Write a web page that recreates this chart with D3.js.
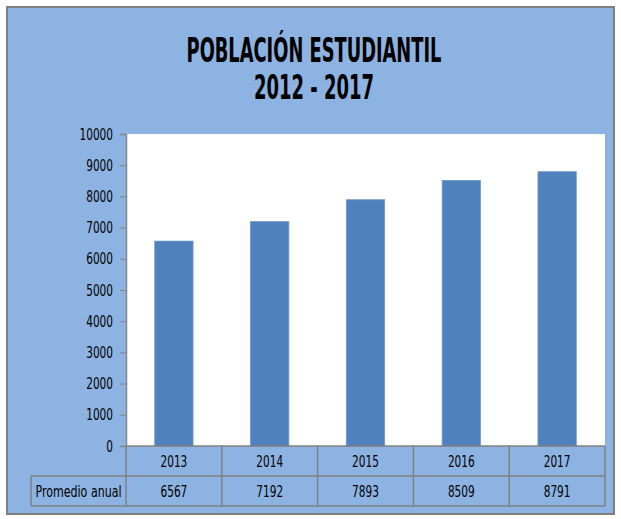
<!DOCTYPE html>
<html>
<head>
<meta charset="utf-8">
<script src="https://cdn.jsdelivr.net/npm/d3@7"></script>
<style>
  body { margin: 0; background: #fff; }
  svg text { font-family: "Liberation Sans Narrow", "DejaVu Sans Condensed", "Roboto", sans-serif; fill: #000; }
  .axis path, .axis line { stroke: #868686; }
</style>
</head>
<body>
<div id="chart"></div>
<script>
// chart data
const titleLines = ["POBLACIÓN ESTUDIANTIL", "2012 - 2017"];
const years = ["2013", "2014", "2015", "2016", "2017"];
const promedio = [6567, 7192, 7893, 8509, 8791];
const rowLabel = "Promedio anual";
const yTicks = [0, 1000, 2000, 3000, 4000, 5000, 6000, 7000, 8000, 9000, 10000];

const width = 621, height = 519;
const margin = {top: 134, right: 16, bottom: 73, left: 126};
const plotW = width - margin.left - margin.right;   // 479
const plotH = height - margin.top - margin.bottom;  // 312
const rowH = 30;
const labelLeft = 31;
const charW = 6.7; // narrow digits like the original

const svg = d3.select("#chart").append("svg")
  .attr("width", width)
  .attr("height", height);

// outer frame
svg.append("rect")
  .attr("x", 7).attr("y", 7)
  .attr("width", 607).attr("height", 507)
  .attr("fill", "#8DB3E2")
  .attr("stroke", "#7F7F7F")
  .attr("stroke-width", 2);

// title - squeezed horizontally to look like the condensed original
const titleW = [255, 120];
const titleY = [62, 99];
titleLines.forEach(function(t, i) {
  const tg = svg.append("g");
  const txt = tg.append("text")
    .attr("x", 0)
    .attr("y", 0)
    .attr("text-anchor", "middle")
    .attr("font-weight", "bold")
    .attr("font-size", 34)
    .text(t);
  const sx = titleW[i] / txt.node().getComputedTextLength();
  tg.attr("transform", "translate(314," + titleY[i] + ") scale(" + sx + ",1)");
});

const g = svg.append("g")
  .attr("transform", "translate(" + margin.left + "," + margin.top + ")");

const x = d3.scaleBand().domain(years).range([0, plotW]).padding(0);
const y = d3.scaleLinear().domain([0, 10000]).range([plotH, 0]);

// plot area
g.append("rect")
  .attr("width", plotW).attr("height", plotH)
  .attr("fill", "#fff");

// bars
const barW = x.bandwidth() * 0.4;
g.selectAll(".bar")
  .data(promedio)
  .enter().append("rect")
  .attr("class", "bar")
  .attr("x", (d, i) => x(years[i]) + (x.bandwidth() - barW) / 2)
  .attr("y", d => y(d))
  .attr("width", barW)
  .attr("height", d => plotH - y(d))
  .attr("fill", "#4F81BD")
  .attr("stroke", "#6F96C8")
  .attr("stroke-width", 0.8);

// y axis
const yAxis = d3.axisLeft(y)
  .tickValues(yTicks)
  .tickSize(6)
  .tickPadding(7)
  .tickFormat(d3.format("d"));

g.append("g")
  .attr("class", "y axis")
  .call(yAxis)
  .call(s => s.select(".domain").attr("stroke-width", 1.5))
  .selectAll("text")
  .attr("font-size", 16)
  .attr("font-family", null)
  .attr("textLength", d => String(d).length * charW)
  .attr("lengthAdjust", "spacingAndGlyphs");

// data table under the plot
const table = g.append("g")
  .attr("transform", "translate(0," + plotH + ")");

const gridColor = "#808080";

function cellText(sel) {
  sel.attr("text-anchor", "middle")
    .attr("font-size", 16)
    .attr("textLength", d => String(d).length * charW)
    .attr("lengthAdjust", "spacingAndGlyphs");
}

// category row
table.selectAll(".yr")
  .data(years)
  .enter().append("text")
  .attr("class", "yr")
  .attr("x", d => x(d) + x.bandwidth() / 2)
  .attr("y", rowH / 2 + 6)
  .call(cellText)
  .text(d => d);

// value row
table.selectAll(".val")
  .data(promedio)
  .enter().append("text")
  .attr("class", "val")
  .attr("x", (d, i) => x(years[i]) + x.bandwidth() / 2)
  .attr("y", rowH + rowH / 2 + 6)
  .call(cellText)
  .text(d => d);

table.append("text")
  .attr("x", (labelLeft - margin.left) / 2)
  .attr("y", rowH + rowH / 2 + 6)
  .attr("text-anchor", "middle")
  .attr("font-size", 16)
  .attr("textLength", 86)
  .attr("lengthAdjust", "spacingAndGlyphs")
  .text(rowLabel);

// grid lines
const lines = [];
// horizontal
lines.push([0, 0, plotW, 0]);
lines.push([labelLeft - margin.left, rowH, plotW, rowH]);
lines.push([labelLeft - margin.left, rowH * 2, plotW, rowH * 2]);
// vertical
lines.push([labelLeft - margin.left, rowH, labelLeft - margin.left, rowH * 2]);
lines.push([0, 0, 0, rowH * 2]);
years.forEach(function(d) {
  lines.push([x(d) + x.bandwidth(), 0, x(d) + x.bandwidth(), rowH * 2]);
});

table.selectAll(".grid")
  .data(lines)
  .enter().append("line")
  .attr("class", "grid")
  .attr("x1", d => d[0]).attr("y1", d => d[1])
  .attr("x2", d => d[2]).attr("y2", d => d[3])
  .attr("stroke", gridColor)
  .attr("stroke-width", 1.5);
</script>
</body>
</html>
